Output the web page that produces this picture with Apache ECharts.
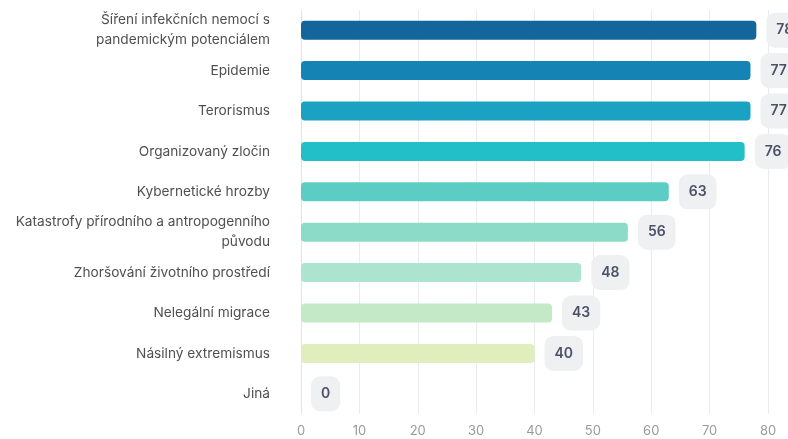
<!DOCTYPE html>
<html><head><meta charset="utf-8">
<script src="https://cdn.jsdelivr.net/npm/echarts@6/dist/echarts.min.js"></script>
<style>html,body{margin:0;padding:0;background:#fff}#c{width:788px;height:439px}</style>
</head><body><div id="c"></div>
<script>
const categories = [
  "Šíření infekčních nemocí s\npandemickým potenciálem",
  "Epidemie",
  "Terorismus",
  "Organizovaný zločin",
  "Kybernetické hrozby",
  "Katastrofy přírodního a antropogenního\npůvodu",
  "Zhoršování životního prostředí",
  "Nelegální migrace",
  "Násilný extremismus",
  "Jiná"
];
const values = [78, 77, 77, 76, 63, 56, 48, 43, 40, 0];
const barColors = ["#12669c", "#1584b4", "#1ba2c3", "#22bfc8", "#5ccdc4", "#8cdbc9", "#ade4d0", "#c3e9c6", "#dfeebc", "#eef3c0"];
const xTicks = [0, 10, 20, 30, 40, 50, 60, 70, 80];

const chart = echarts.init(document.getElementById('c'));
chart.setOption({
  animation: false,
  grid: { left: 301, right: 20, top: 10, bottom: 25, containLabel: false, outerBoundsMode: 'none' },
  xAxis: {
    type: 'value', min: xTicks[0], max: xTicks[xTicks.length - 1], interval: 10,
    axisLine: { show: false }, axisTick: { show: false },
    splitLine: { lineStyle: { color: '#e9ebef', width: 1 } },
    axisLabel: { color: '#9a9a9a', fontSize: 13, fontFamily: 'Inter', margin: 11 }
  },
  yAxis: {
    type: 'category', data: categories, inverse: true,
    axisLine: { show: true, lineStyle: { color: '#dde3ee' } }, axisTick: { show: false },
    axisLabel: { color: '#505050', fontSize: 13.7, fontFamily: 'Inter', margin: 31, lineHeight: 20, align: 'right', padding: [3, 0, 0, 0] }
  },
  series: [{
    type: 'bar',
    data: values.map((v, i) => ({ value: v, itemStyle: { color: barColors[i] } })),
    barWidth: 19,
    itemStyle: { borderRadius: 4 },
    label: {
      show: true, position: 'right', distance: 10,
      color: '#4b5167', fontSize: 14, fontWeight: 600, fontFamily: 'Inter',
      backgroundColor: '#eef0f2', borderRadius: 9,
      padding: [11, 10, 10, 10]
    }
  }]
});
</script></body></html>
